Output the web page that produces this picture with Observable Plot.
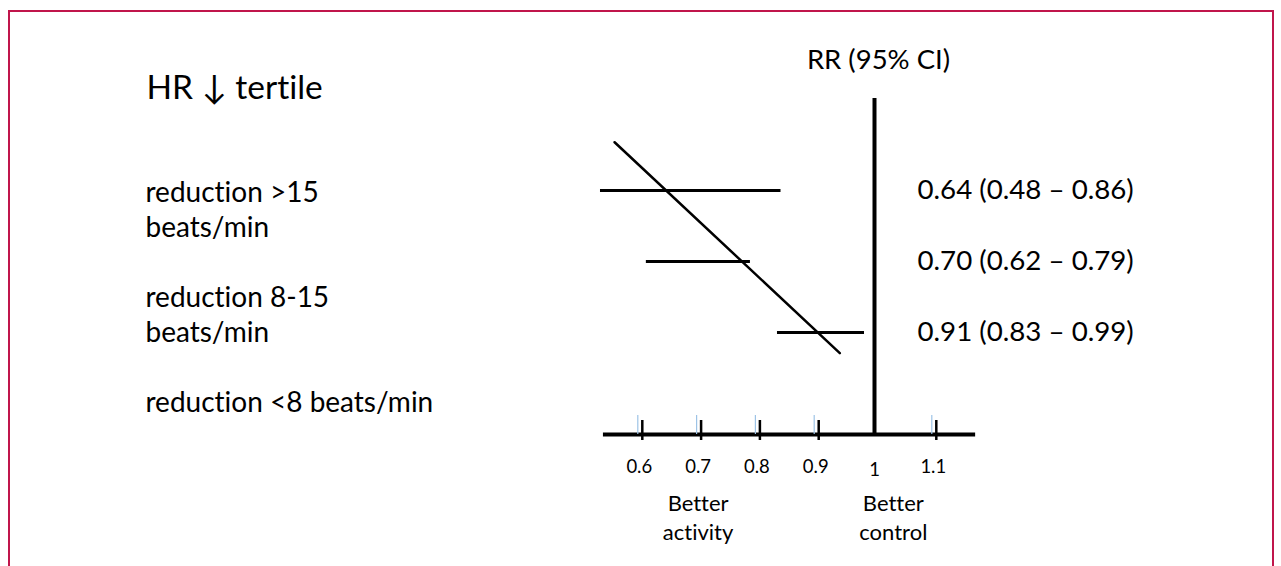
<!DOCTYPE html>
<html>
<head>
<meta charset="utf-8">
<script src="https://cdn.jsdelivr.net/npm/d3@7"></script>
<script src="https://cdn.jsdelivr.net/npm/@observablehq/plot@0.6"></script>
<style>
  html, body { margin: 0; padding: 0; background: #fff; overflow: hidden; }
  #wrap { position: relative; width: 1281px; height: 566px; overflow: hidden; }
  #frame { position: absolute; left: 8px; top: 10px; width: 1266px; height: 600px;
           border: 2px solid #c0154b; border-bottom: none; box-sizing: border-box; }
  #chart { position: absolute; left: 0; top: 0; }
  #chart svg text, #chart svg tspan { font-variant-ligatures: none; font-feature-settings: "liga" 0, "clig" 0; }
</style>
</head>
<body>
<div id="wrap"><div id="frame"></div><div id="chart"></div></div>
<script>
// ---- data ----
const title = "HR ↓ tertile";
const columnTitle = "RR (95% CI)";
const groups = ["reduction >15\nbeats/min", "reduction 8-15\nbeats/min", "reduction <8 beats/min"];
const rows = [1, 2, 3];
const rr = [0.64, 0.70, 0.91];
const ciLow = [0.48, 0.62, 0.83];
const ciHigh = [0.86, 0.79, 0.99];
// segment ends as actually drawn in the picture
const drawnLow = [0.534, 0.612, 0.835];
const drawnHigh = [0.841, 0.789, 0.983];
// the diagonal trend line drawn over the segments
const trendX = [0.558, 0.941];
const trendY = [0.32, 3.29];
// axis
const xTicks = [0.6, 0.7, 0.8, 0.9, 1, 1.1];
const xTickLabels = ["0.6", "0.7", "0.8", "0.9", "1", "1.1"];
const axisExtent = [0.539, 1.172];
const axisRow = 4.437;
const nullValue = 1;
const nullTopRow = -0.296;
const sideLabels = ["Better\nactivity", "Better\ncontrol"];
const sideLabelX = [0.7, 1.032];

const fmt = d3.format(".2f");
const ciText = rows.map((r, i) => `${fmt(rr[i])} (${fmt(ciLow[i])} – ${fmt(ciHigh[i])})`);
const segs = rows.map((r, i) => ({row: r, lo: drawnLow[i], hi: drawnHigh[i], label: ciText[i]}));
const trend = trendX.map((x, i) => ({x, y: trendY[i]}));
const ticks = xTicks.map((v, i) => ({v, label: xTickLabels[i]}));
const sides = sideLabels.map((t, i) => ({x: sideLabelX[i], t}));

const leftBlock = groups.join("\n\n");

const FONT = "Lato, 'Open Sans', sans-serif";

const plot = Plot.plot({
  width: 1281,
  height: 566,
  margin: 0,
  x: {type: "linear", domain: [0.5, 1.2], range: [580, 991.6], axis: null},
  y: {type: "linear", domain: [0, 4], range: [119, 403], axis: null},
  style: {fontFamily: FONT, background: "transparent", color: "#000", overflow: "visible"},
  marks: [
    // axis line
    Plot.ruleY([axisRow], {x1: axisExtent[0], x2: axisExtent[1], stroke: "#000", strokeWidth: 4}),
    // null line
    Plot.ruleX([nullValue], {y1: nullTopRow, y2: axisRow, stroke: "#000", strokeWidth: 4}),
    // pale ticks
    Plot.ruleX(ticks.filter(d => d.v !== nullValue), {x: "v", y1: 4.17, y2: axisRow, dx: -1.5, stroke: "#9dc3e6", strokeWidth: 1.2}),
    // black ticks
    Plot.ruleX(ticks.filter(d => d.v !== nullValue), {x: "v", y1: 4.239, y2: 4.521, dx: 3, stroke: "#000", strokeWidth: 2.5}),
    // tick labels
    Plot.text(ticks.filter(d => d.v !== nullValue), {x: "v", text: "label", frameAnchor: "top", dy: 467, lineAnchor: "middle", fontSize: 18.5, fill: "#000"}),
    Plot.text(ticks.filter(d => d.v === nullValue), {x: "v", text: "label", frameAnchor: "top", dy: 469.5, lineAnchor: "middle", fontSize: 18.5, fill: "#000"}),
    // side labels
    Plot.text(sides, {x: "x", text: "t", frameAnchor: "top", dy: 516, lineAnchor: "middle", lineHeight: 1.29, fontSize: 22, fill: "#000"}),
    // CI segments
    Plot.ruleY(segs, {y: "row", x1: "lo", x2: "hi", stroke: "#000", strokeWidth: 3}),
    // trend line
    Plot.line(trend, {x: "x", y: "y", stroke: "#000", strokeWidth: 2.5}),
    // CI text
    Plot.text(segs, {y: "row", text: "label", frameAnchor: "left", dx: 917, textAnchor: "start", fontSize: 27.7, fill: "#000"}),
    // column title
    Plot.text([columnTitle], {frameAnchor: "top-left", dx: 878, dy: 60, textAnchor: "middle", lineAnchor: "middle", fontSize: 27.5, fill: "#000"}),
    // title
    Plot.text([title], {frameAnchor: "top-left", dx: 146, dy: 88, textAnchor: "start", lineAnchor: "middle", fontSize: 33.5, fill: "#000"}),
    // group labels
    Plot.text([leftBlock], {frameAnchor: "top-left", dx: 145, dy: 295, textAnchor: "start", lineAnchor: "middle", lineHeight: 1.25, fontSize: 28, fill: "#000"})
  ]
});
document.getElementById("chart").appendChild(plot);
</script>
</body>
</html>
